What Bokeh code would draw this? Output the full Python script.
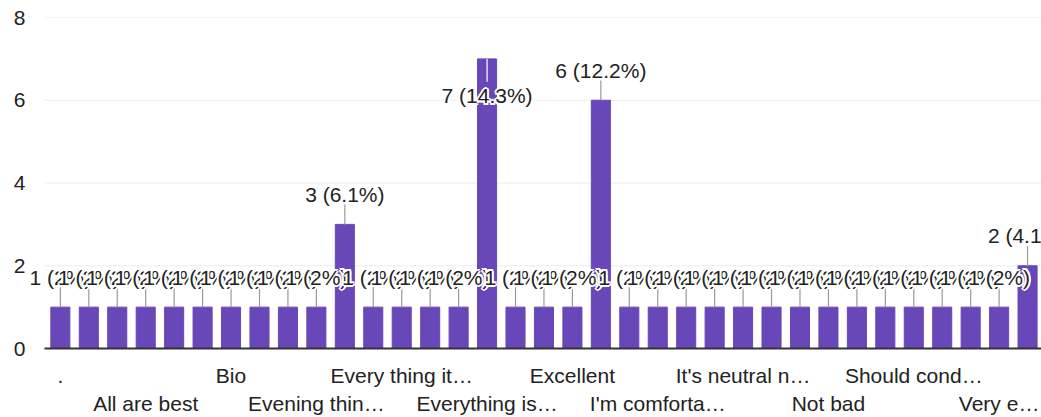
from bokeh.plotting import figure
from bokeh.models import ColumnDataSource, LinearAxis, FixedTicker, LabelSet, Range1d
from bokeh.core.properties import value
from bokeh.embed import file_html
from bokeh.resources import INLINE

categories = [".", "Accurate", "Admirable", "All are best", "Awesome", "Best", "Bio",
              "Comfortable", "Easy", "Evening thin…", "Every thing is good",
              "Every thing is nice", "Every thing it…", "Everything fine",
              "Everything good", "Everything is…", "Everything nice", "Everything ok",
              "Excellent", "Good", "Helpful", "I'm comforta…", "Interesting",
              "It's good", "It's neutral n…", "Nice", "No", "Not bad", "Ok",
              "Satisfied", "Should cond…", "Super", "Useful", "Very e…", "Very good"]
values = [1, 1, 1, 1, 1, 1, 1, 1, 1, 1, 3, 1, 1, 1, 1, 7, 1, 1, 1, 6,
          1, 1, 1, 1, 1, 1, 1, 1, 1, 1, 1, 1, 1, 1, 2]
y_ticks = [0, 2, 4, 6, 8]

FONT = "Liberation Sans"
BAR = "#6847b8"
TXT = "#222222"

n = len(values)
total = sum(values)
xs = list(range(n))

# visible chart area (data units) and a little extra room on the left for labels
X_START, X_END = -0.56, 34.49
X_PAD = 0.56

def pct(v):
    s = f"{v / total * 100:.1f}".rstrip("0").rstrip(".")
    return f"{v} ({s}%)"

p = figure(width=1041, height=417, output_backend="svg", toolbar_location=None,
           x_range=Range1d(X_START - X_PAD, X_END), y_range=Range1d(0, 8),
           x_axis_type=None, min_border_left=28, min_border_right=0,
           min_border_top=17, min_border_bottom=0)
p.outline_line_color = None
p.background_fill_color = "white"
p.border_fill_color = "white"
p.ygrid.grid_line_color = None
p.xgrid.grid_line_color = None

# gridlines limited to the chart area
gy = [t for t in y_ticks if t > 0]
p.segment(x0=[X_START] * len(gy), y0=gy, x1=[X_END] * len(gy), y1=gy,
          line_color="#ececec", line_width=1)

p.vbar(x=xs, top=values, width=0.67, color=BAR)

# axes
p.yaxis.ticker = FixedTicker(ticks=y_ticks)
p.yaxis.axis_line_color = None
p.yaxis.major_tick_line_color = None
p.yaxis.minor_tick_line_color = None
p.yaxis.major_tick_out = 0
p.yaxis.minor_tick_out = 0
p.yaxis.major_label_text_font = FONT
p.yaxis.major_label_text_font_size = "21px"
p.yaxis.major_label_text_color = TXT
p.yaxis.major_label_standoff = 3

row1 = [i for i in range(0, n, 6)]
row2 = [i for i in range(3, n, 6)]
for k, ticks in enumerate([row1, row2]):
    ax = LinearAxis(ticker=FixedTicker(ticks=ticks),
                    major_label_overrides={i: categories[i] for i in ticks})
    ax.major_tick_line_color = None
    ax.minor_tick_line_color = None
    ax.major_tick_out = 0
    ax.minor_tick_out = 0
    ax.major_tick_in = 0
    ax.minor_tick_in = 0
    ax.major_label_text_font = FONT
    ax.major_label_text_font_size = "21px"
    ax.major_label_text_color = TXT
    if k == 0:
        ax.axis_line_color = "#333333"
        ax.axis_line_width = 2
        ax.bounds = (X_START, X_END)
        ax.major_label_standoff = 15
    else:
        ax.axis_line_color = None
        ax.major_label_standoff = 2
    p.add_layout(ax, "below")

# stems
vmax = max(values)
stem = 0.48
inside = [v == vmax for v in values]
sx, sy0, sy1, scol = [], [], [], []
for i, v in enumerate(values):
    sx.append(i)
    sy0.append(v)
    if inside[i]:
        sy1.append(v - 0.55)
        scol.append("#ffffff")
    else:
        sy1.append(v + stem)
        scol.append("#9a9a9a")
p.segment(x0=sx, y0=sy0, x1=sx, y1=sy1, line_color=scol, line_width=1.2)

# data labels with white halo
halo = [(-2, 0), (2, 0), (0, -2), (0, 2), (-1.5, -1.5), (1.5, -1.5), (-1.5, 1.5), (1.5, 1.5)]
lx, ly, lt, lxo, lyo, lc = [], [], [], [], [], []
for i, v in enumerate(values):
    base = -37 if inside[i] else 30
    for dx, dy in halo + [(0, 0)]:
        lx.append(i)
        ly.append(v)
        lt.append(pct(v))
        lxo.append(dx)
        lyo.append(base + dy)
        lc.append(TXT if (dx, dy) == (0, 0) else "#ffffff")
src = ColumnDataSource(dict(x=lx, y=ly, text=lt, xo=lxo, yo=lyo, c=lc))
labels = LabelSet(x="x", y="y", text="text", x_offset="xo", y_offset="yo", source=src,
                  text_color="c", text_font=value(FONT), text_font_size=value("21px"),
                  text_align="center", text_baseline="middle")
p.add_layout(labels)

open("out.html", "w").write(file_html(p, INLINE))
